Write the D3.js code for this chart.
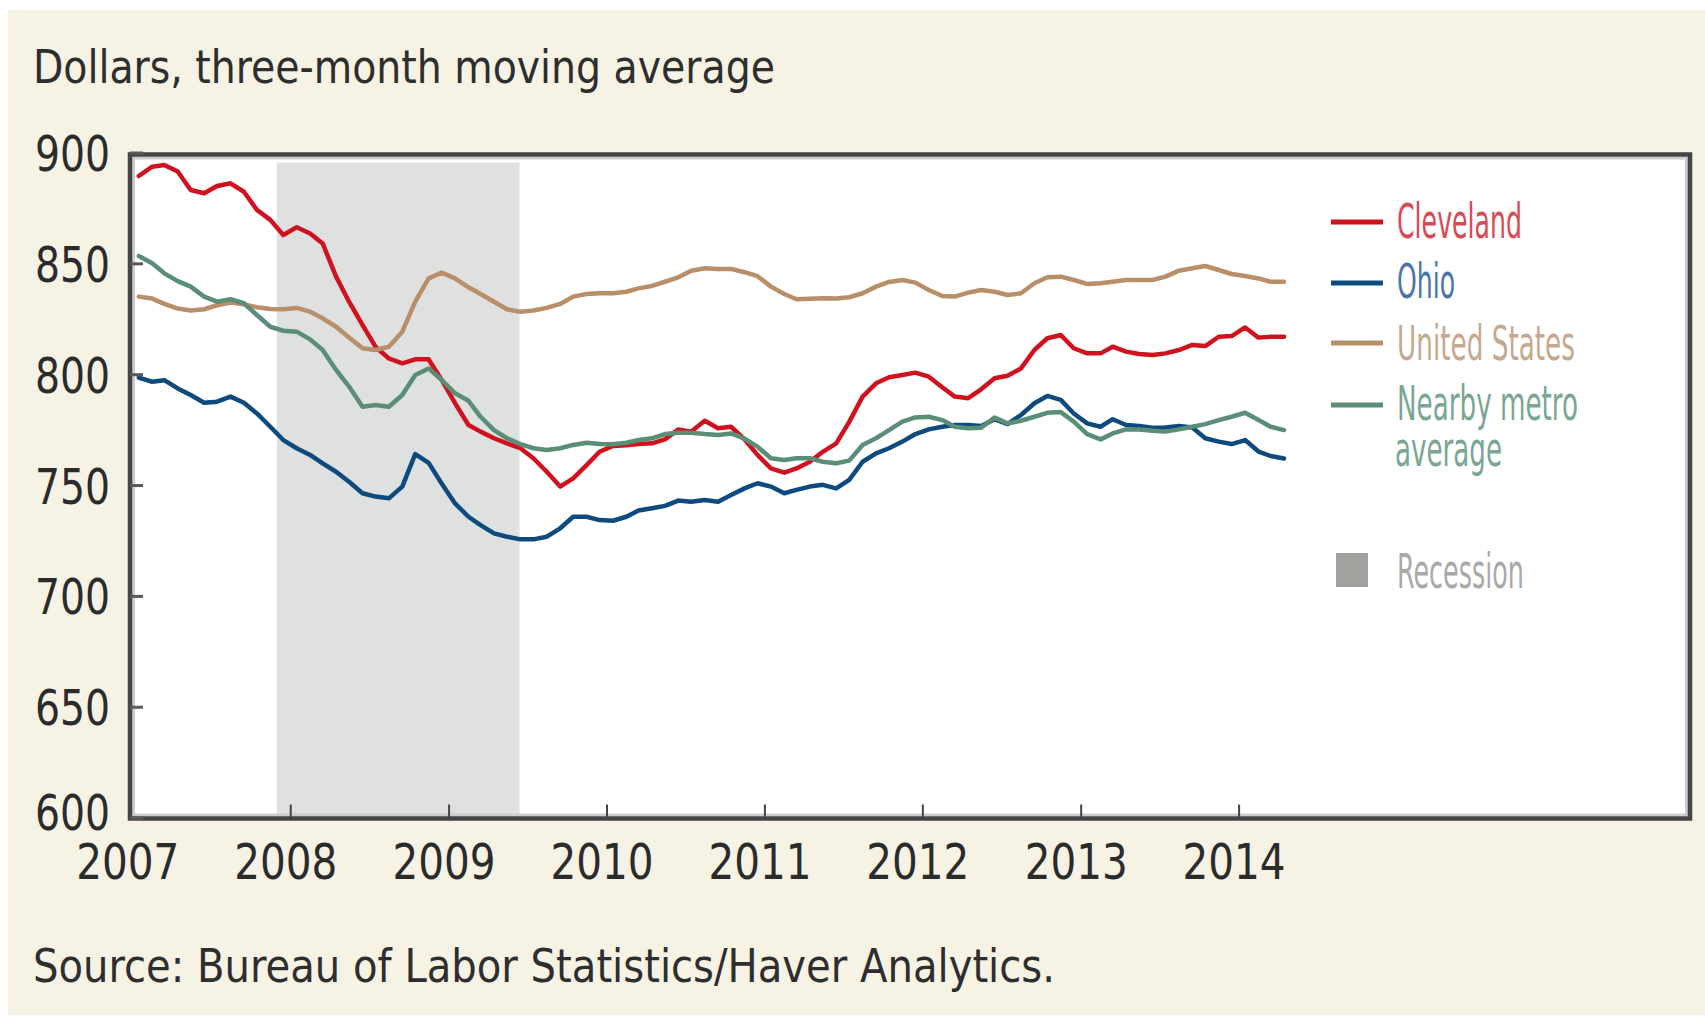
<!DOCTYPE html>
<html>
<head>
<meta charset="utf-8">
<script src="https://cdn.jsdelivr.net/npm/d3@7"></script>
<style>
  body { margin: 0; background: #fff; }
  text { font-family: "Liberation Sans Narrow", "DejaVu Sans Condensed", "Roboto Condensed", sans-serif; }
</style>
</head>
<body>
<div id="chart"></div>
<script>
// Monthly data, Jan 2007 - Apr 2014 (dollars, three-month moving average)
const months = d3.timeMonth.range(new Date(2007, 0, 1), new Date(2014, 4, 1));

const cleveland = [
  889.4, 893.6, 894.4, 891.4, 883.1, 881.6, 884.9, 886.1, 882.3, 874.1, 869.6, 862.8,
  866.3, 863.5, 859.0, 844.0, 832.7, 822.2, 812.4, 807.1, 804.9, 806.7, 806.7, 797.4,
  786.9, 777.1, 774.1, 771.1, 768.8, 766.6, 762.1, 756.0, 749.3, 753.0, 759.0, 765.0,
  767.6, 767.9, 768.5, 768.8, 770.6, 775.1, 774.1, 779.0, 775.6, 776.3, 770.6, 763.6,
  757.5, 755.6, 757.5, 760.5, 765.0, 768.8, 778.5, 789.9, 795.9, 798.6, 799.6, 800.7,
  798.9, 794.1, 789.9, 789.2, 793.2, 798.2, 799.3, 802.6, 810.9, 816.2, 817.7, 811.7,
  809.4, 809.4, 812.4, 810.2, 809.1, 808.7, 809.4, 810.9, 813.2, 812.7, 816.9, 817.2,
  821.1, 816.5, 816.9, 816.9
];
const ohio = [
  798.5, 796.6, 797.3, 793.6, 790.6, 787.1, 787.6, 789.9, 787.1, 782.3, 776.3, 770.3,
  766.6, 763.6, 759.8, 756.0, 751.5, 746.3, 744.8, 744.0, 749.3, 764.0, 760.0, 750.7,
  741.7, 735.7, 731.9, 728.2, 726.7, 725.5, 725.5, 726.7, 730.5, 735.7, 735.7, 734.2,
  733.9, 735.7, 738.5, 739.5, 740.6, 743.0, 742.5, 743.3, 742.5, 745.5, 748.5, 750.8,
  749.3, 746.3, 747.8, 749.3, 750.1, 748.5, 752.3, 760.5, 764.3, 766.6, 769.6, 773.0,
  775.1, 776.3, 777.1, 777.1, 776.6, 779.7, 777.5, 781.6, 786.9, 790.2, 788.4, 782.3,
  777.8, 776.3, 779.7, 777.1, 776.6, 775.9, 776.0, 776.6, 776.0, 771.1, 769.6, 768.5,
  770.3, 765.1, 763.1, 762.0
];
const unitedStates = [
  835.0, 834.1, 831.7, 829.6, 828.7, 829.3, 831.1, 832.3, 831.5, 830.2, 829.4, 829.3,
  829.9, 828.2, 825.2, 821.4, 816.6, 811.7, 810.9, 812.4, 819.2, 832.7, 843.2, 845.8,
  843.2, 839.2, 836.2, 832.7, 829.3, 828.2, 828.7, 829.9, 831.7, 835.0, 836.2, 836.5,
  836.5, 837.2, 838.7, 839.8, 841.7, 843.7, 846.7, 847.8, 847.4, 847.5, 846.0, 844.2,
  839.5, 836.2, 833.8, 834.0, 834.3, 834.1, 834.7, 836.5, 839.5, 841.6, 842.5, 841.3,
  838.0, 835.3, 835.0, 836.8, 838.0, 837.2, 835.7, 836.5, 841.0, 843.7, 844.0, 842.5,
  840.7, 841.0, 841.7, 842.5, 842.5, 842.5, 844.0, 846.7, 847.8, 848.8, 847.0, 845.2,
  844.3, 843.2, 841.7, 841.7
];
const nearbyMetro = [
  853.3, 850.0, 845.5, 842.0, 839.5, 835.0, 832.7, 833.8, 832.0, 826.7, 821.4, 819.6,
  819.2, 815.7, 810.9, 801.9, 794.4, 785.3, 786.1, 785.3, 790.6, 799.6, 802.6, 797.4,
  791.4, 788.0, 780.8, 774.8, 771.1, 768.5, 766.6, 765.8, 766.6, 768.1, 769.1, 768.5,
  768.4, 769.1, 770.3, 771.1, 773.0, 773.6, 773.6, 773.0, 772.6, 773.3, 770.9, 767.3,
  762.1, 761.3, 762.1, 762.1, 760.5, 759.8, 761.0, 768.1, 771.1, 774.8, 778.6, 780.5,
  780.8, 779.3, 776.3, 775.6, 775.9, 780.5, 777.8, 779.0, 780.8, 782.6, 782.9, 778.6,
  773.0, 770.6, 773.3, 775.1, 775.1, 774.5, 774.1, 775.1, 776.3, 777.5, 779.3, 780.8,
  782.6, 779.3, 776.3, 774.8
];

const recession = [new Date(2007, 11, 1), new Date(2009, 5, 14)];
const yearTicks = d3.range(2007, 2015).map(y => new Date(y, 0, 1));
const yTicks = [600, 650, 700, 750, 800, 850, 900];

const series = [
  { name: "Cleveland", values: cleveland, color: "#d0121f", text: "#d84a55" },
  { name: "Ohio", values: ohio, color: "#0d4a7e", text: "#4a76a3" },
  { name: "United States", values: unitedStates, color: "#b88f69", text: "#c4a98f" },
  { name: "Nearby metro", name2: "average", values: nearbyMetro, color: "#5a8e77", text: "#7aa692" }
];

// Chart dimensions
const W = 1705, H = 1016;
const frame = { left: 130, top: 154.5, right: 1690, bottom: 818.5 };

const svg = d3.select("#chart")
    .append("svg")
    .attr("width", W)
    .attr("height", H);

svg.append("rect").attr("width", W).attr("height", H).attr("fill", "#fff");
svg.append("rect")
    .attr("x", 8).attr("y", 10)
    .attr("width", W - 8).attr("height", H - 11)
    .attr("fill", "#f6f2e4");

const x = d3.scaleTime()
    .domain([new Date(2007, 0, 1), new Date(2014, 0, 1)])
    .range([132.3, 1238.6]);

const y = d3.scaleLinear()
    .domain([600, 900])
    .range([817.6, 152.5]);

// Plot background
svg.append("rect")
    .attr("x", frame.left).attr("y", frame.top)
    .attr("width", frame.right - frame.left)
    .attr("height", frame.bottom - frame.top)
    .attr("fill", "#fff");

// Recession shading
svg.append("rect")
    .attr("x", x(recession[0]))
    .attr("y", frame.top + 8)
    .attr("width", x(recession[1]) - x(recession[0]))
    .attr("height", frame.bottom - frame.top - 9)
    .attr("fill", "#dfe0e0");

// Lines (points plotted mid-month)
const line = d3.line()
    .x((d, i) => x(d3.timeDay.offset(months[i], 15)))
    .y(d => y(d));

series.forEach(s => {
    svg.append("path")
        .datum(s.values)
        .attr("d", line)
        .attr("fill", "none")
        .attr("stroke", s.color)
        .attr("stroke-width", 4.5)
        .attr("stroke-linejoin", "round")
        .attr("stroke-linecap", "round");
});

// Frame
svg.append("rect")
    .attr("x", frame.left + 3.5).attr("y", frame.top + 3.5)
    .attr("width", frame.right - frame.left - 7)
    .attr("height", frame.bottom - frame.top - 7)
    .attr("fill", "none")
    .attr("stroke", "#cdcdcd")
    .attr("stroke-width", 3);
svg.append("rect")
    .attr("x", frame.left).attr("y", frame.top)
    .attr("width", frame.right - frame.left)
    .attr("height", frame.bottom - frame.top)
    .attr("fill", "none")
    .attr("stroke", "#454545")
    .attr("stroke-width", 4.5);

// Axes
const xAxis = svg.append("g")
    .attr("transform", `translate(0,${frame.bottom})`)
    .call(d3.axisBottom(x).tickValues(yearTicks).tickFormat(d3.timeFormat("%Y")).tickSize(-14));
xAxis.select(".domain").remove();
xAxis.selectAll(".tick line").attr("stroke", "#444").attr("stroke-width", 2);
xAxis.selectAll(".tick text")
    .attr("x", -5).attr("y", 60).attr("dy", 0)
    .attr("fill", "#2b2b2b")
    .style("font-size", "50px")
    .attr("textLength", 103)
    .attr("lengthAdjust", "spacingAndGlyphs");
xAxis.selectAll(".tick").filter(d => d.getFullYear() === 2007).select("line").remove();

const yAxis = svg.append("g")
    .attr("transform", `translate(${frame.left},0)`)
    .call(d3.axisLeft(y).tickValues(yTicks).tickSize(-13));
yAxis.select(".domain").remove();
yAxis.selectAll(".tick line").attr("stroke", "#5a5a5a").attr("stroke-width", 3);
yAxis.selectAll(".tick text")
    .attr("x", -20).attr("y", d => d === 600 ? 12 : 18).attr("dy", 0)
    .attr("fill", "#2b2b2b")
    .style("font-size", "50px")
    .attr("textLength", 75)
    .attr("lengthAdjust", "spacingAndGlyphs");

// Title and source
svg.append("text")
    .attr("x", 33).attr("y", 83)
    .attr("fill", "#2e2e2e")
    .style("font-size", "47px")
    .attr("textLength", 742)
    .attr("lengthAdjust", "spacingAndGlyphs")
    .text("Dollars, three-month moving average");

svg.append("text")
    .attr("x", 33).attr("y", 982)
    .attr("fill", "#2e2e2e")
    .style("font-size", "46px")
    .attr("textLength", 1022)
    .attr("lengthAdjust", "spacingAndGlyphs")
    .text("Source: Bureau of Labor Statistics/Haver Analytics.");

// Legend
const legendY = [222, 283, 343, 405];
const legendBase = [238, 298, 360, 420];
const legendW = [125, 58, 178, 181];

series.forEach((s, i) => {
    svg.append("line")
        .attr("x1", 1331).attr("x2", 1383)
        .attr("y1", legendY[i]).attr("y2", legendY[i])
        .attr("stroke", s.color)
        .attr("stroke-width", 5);
    svg.append("text")
        .attr("x", 1397).attr("y", legendBase[i])
        .attr("fill", s.text)
        .style("font-size", "48px")
        .attr("textLength", legendW[i])
        .attr("lengthAdjust", "spacingAndGlyphs")
        .text(s.name);
    if (s.name2) {
        svg.append("text")
            .attr("x", 1395).attr("y", 466)
            .attr("fill", s.text)
            .style("font-size", "48px")
            .attr("textLength", 107)
            .attr("lengthAdjust", "spacingAndGlyphs")
            .text(s.name2);
    }
});

svg.append("rect")
    .attr("x", 1336).attr("y", 553)
    .attr("width", 32).attr("height", 34)
    .attr("fill", "#a3a19d");
svg.append("text")
    .attr("x", 1397).attr("y", 588)
    .attr("fill", "#a9a9a9")
    .style("font-size", "48px")
    .attr("textLength", 127)
    .attr("lengthAdjust", "spacingAndGlyphs")
    .text("Recession");
</script>
</body>
</html>
